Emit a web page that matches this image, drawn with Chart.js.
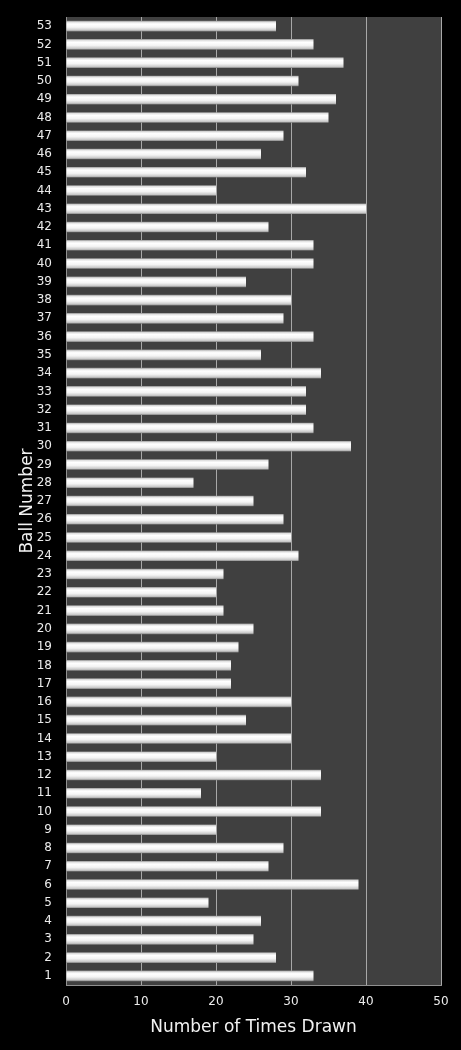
<!DOCTYPE html>
<html>
<head>
<meta charset="utf-8">
<script src="https://cdn.jsdelivr.net/npm/chart.js@4/dist/chart.umd.min.js"></script>
<style>
html,body{margin:0;padding:0;background:#000;}
#wrap{width:461px;height:1050px;position:relative;}
</style>
</head>
<body>
<div id="wrap"><canvas id="c" width="461" height="1050"></canvas></div>
<script>
const ballNumbers = [];
for (let i = 53; i >= 1; i--) ballNumbers.push(String(i));
// times drawn, listed from ball 53 down to ball 1
const timesDrawn = [
  28, 33, 37, 31, 36, 35, 29, 26, 32, 20,
  40, 27, 33, 33, 24, 30, 29, 33, 26, 34,
  32, 32, 33, 38, 27, 17, 25, 29, 30, 31,
  21, 20, 21, 25, 23, 22, 22, 30, 24, 30,
  20, 34, 18, 34, 20, 29, 27, 39, 19, 26,
  25, 28, 33
];
const xTickValues = [0, 10, 20, 30, 40, 50];

const plotBg = {
  id: 'plotBg',
  beforeDraw(chart) {
    const {ctx, chartArea: a} = chart;
    ctx.save();
    ctx.fillStyle = '#404040';
    ctx.fillRect(a.left, a.top, a.right - a.left, a.bottom - a.top);
    ctx.restore();
  }
};

const barGradient = {
  id: 'barGradient',
  beforeDatasetsDraw(chart) {
    const ctx = chart.ctx;
    chart.getDatasetMeta(0).data.forEach(el => {
      const h = el.height;
      const t = el.y - h / 2;
      const g = ctx.createLinearGradient(0, t, 0, t + h);
      g.addColorStop(0, '#909090');
      g.addColorStop(0.12, '#e0e0e0');
      g.addColorStop(0.3, '#ffffff');
      g.addColorStop(0.6, '#f4f4f4');
      g.addColorStop(0.88, '#c8c8c8');
      g.addColorStop(1, '#808080');
      el.options.backgroundColor = g;
    });
  }
};

new Chart(document.getElementById('c'), {
  type: 'bar',
  data: {
    labels: ballNumbers,
    datasets: [{
      data: timesDrawn,
      backgroundColor: () => '#eeeeee',
      borderWidth: 0,
      barPercentage: 0.58,
      categoryPercentage: 1.0
    }]
  },
  options: {
    indexAxis: 'y',
    responsive: false,
    animation: false,
    devicePixelRatio: 1,
    layout: { padding: { top: 17, right: 20, left: 0, bottom: 0 } },
    plugins: { legend: { display: false }, tooltip: { enabled: false } },
    scales: {
      x: {
        min: 0, max: 50,
        afterBuildTicks(scale) { scale.ticks = xTickValues.map(v => ({value: v})); },
        afterFit(scale) { scale.height = 65; scale.paddingLeft = 0; scale.paddingRight = 0; },
        grid: { color: '#a8a8a8', lineWidth: 1, drawTicks: false },
        border: { color: '#909090', width: 1 },
        ticks: { color: '#ececec', padding: 10, font: { family: 'DejaVu Sans', size: 12 } },
        title: {
          display: true, text: 'Number of Times Drawn', color: '#f2f2f2',
          font: { family: 'DejaVu Sans', size: 17 }, padding: { top: 0, bottom: 12 }
        }
      },
      y: {
        afterFit(scale) { scale.width = 66; scale.paddingTop = 0; scale.paddingBottom = 0; },
        grid: { display: false, drawTicks: false },
        border: { color: '#909090', width: 1 },
        ticks: { color: '#ececec', padding: 14, autoSkip: false, font: { family: 'DejaVu Sans', size: 12 } },
        title: {
          display: true, text: 'Ball Number', color: '#f2f2f2',
          font: { family: 'DejaVu Sans', size: 17 }, padding: { top: 17, bottom: 0 }
        }
      }
    }
  },
  plugins: [plotBg, barGradient]
});
</script>
</body>
</html>
